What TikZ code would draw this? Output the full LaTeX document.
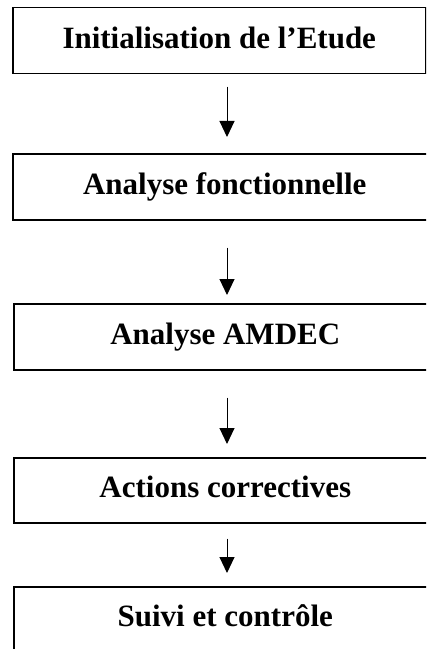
\documentclass[tikz,border=0pt]{standalone}
\usepackage{fontspec}
\setmainfont{Liberation Serif}
\usetikzlibrary{arrows.meta}
\tikzset{
  stage/.style={draw=black, line width=1.5bp, rectangle, inner sep=0pt,
    anchor=north west, font=\bfseries\fontsize{31bp}{36bp}\selectfont,
    text height=22bp, text depth=7bp},
  flow/.style={line width=1bp, -{Triangle[length=16bp,width=15bp]}}
}
\begin{document}
\begin{tikzpicture}[x=1bp,y=-1bp]
  \useasboundingbox (0,0) rectangle (426,649);
  \clip (0,0) rectangle (426,649);
  % process stages, top to bottom
  \node[stage, minimum width=413bp, minimum height=66bp] (init) at (12,7) {Initialisation de l’Etude};
  \node[stage, minimum width=424bp, minimum height=66bp] (fonc) at (12,153) {Analyse fonctionnelle};
  \node[stage, minimum width=423bp, minimum height=66bp] (amdec) at (13,303) {Analyse AMDEC};
  \node[stage, minimum width=423bp, minimum height=65bp] (actions) at (13,457) {Actions correctives};
  \node[stage, minimum width=423bp, minimum height=65bp] (suivi) at (13,586) {Suivi et contrôle};
  % common abscissa of the arrows
  \coordinate (ax) at (227,0);
  \draw[flow, shorten <=12bp, shorten >=16bp] (init.south -| ax) -- (fonc.north -| ax);
  \draw[flow, shorten <=27bp, shorten >=8bp] (fonc.south -| ax) -- (amdec.north -| ax);
  \draw[flow, shorten <=27bp, shorten >=13bp] (amdec.south -| ax) -- (actions.north -| ax);
  \draw[flow, shorten <=15bp, shorten >=13bp] (actions.south -| ax) -- (suivi.north -| ax);
\end{tikzpicture}
\end{document}
